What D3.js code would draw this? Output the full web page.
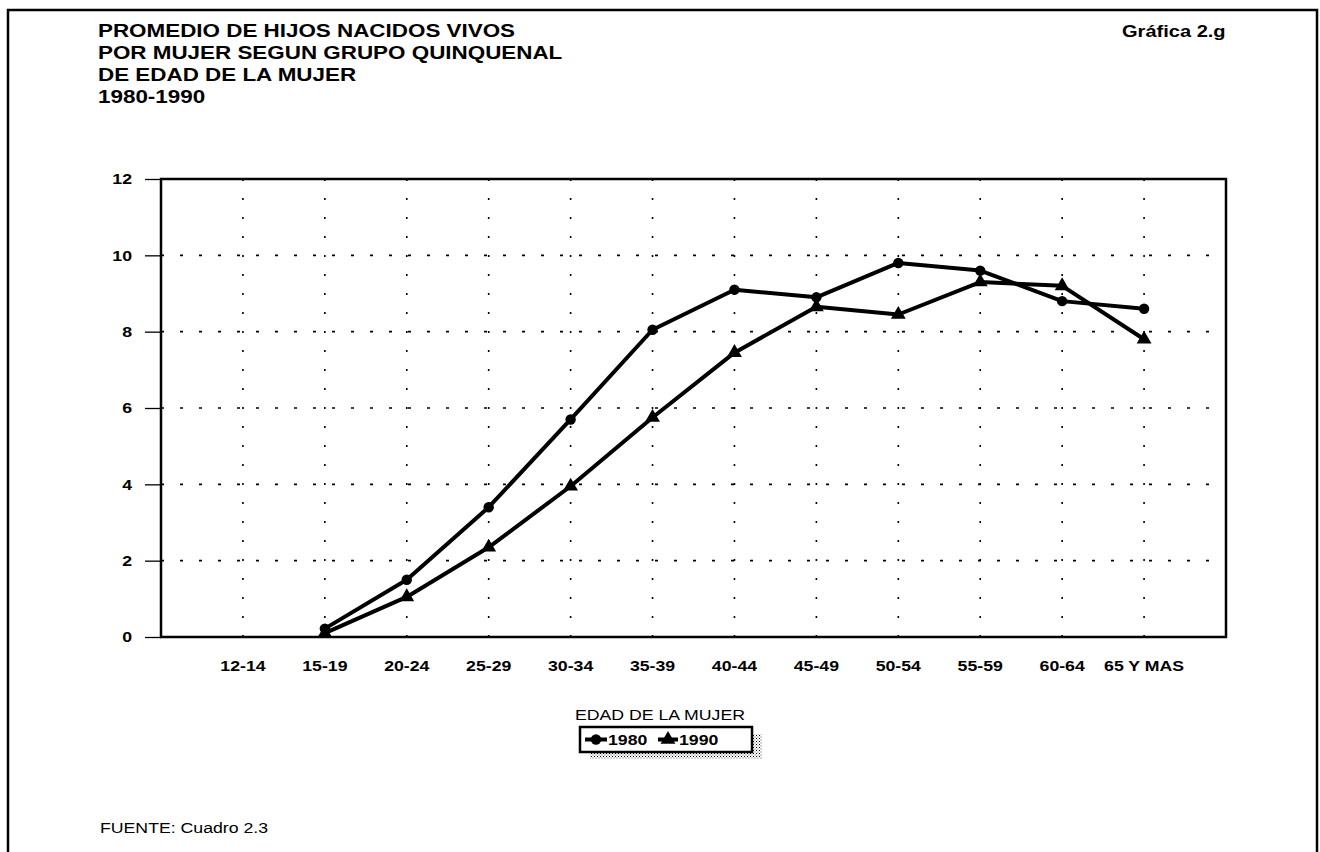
<!DOCTYPE html>
<html>
<head>
<meta charset="utf-8">
<script src="https://cdn.jsdelivr.net/npm/d3@7"></script>
<style>
  html, body { margin: 0; padding: 0; background: #fff; }
  svg { display: block; }
  text { font-family: "Liberation Sans", Arial, Helvetica, sans-serif; fill: #000; }
</style>
</head>
<body>
<svg id="chart" width="1320" height="852"></svg>
<script>
// ---- data ----
const categories = ["12-14","15-19","20-24","25-29","30-34","35-39","40-44","45-49","50-54","55-59","60-64","65 Y MAS"];
const values1980 = [null, 0.22, 1.5, 3.4, 5.7, 8.05, 9.1, 8.9, 9.8, 9.6, 8.8, 8.6];
const values1990 = [null, 0.1, 1.05, 2.35, 3.95, 5.75, 7.45, 8.65, 8.45, 9.3, 9.2, 7.8];
const yTicks = [0, 2, 4, 6, 8, 10, 12];
const gridY = [2, 4, 6, 8, 10];
const seriesNames = ["1980", "1990"];
const titleLines = ["PROMEDIO DE HIJOS NACIDOS VIVOS", "POR MUJER SEGUN GRUPO QUINQUENAL", "DE EDAD DE LA MUJER", "1980-1990"];
const chartCode = "Gráfica 2.g";
const xAxisTitle = "EDAD DE LA MUJER";
const sourceNote = "FUENTE: Cuadro 2.3";

// ---- layout ----
const SX = 1.18; // horizontal stretch of the scanned lettering
const plot = { left: 161, right: 1226, top: 179, bottom: 637 };

const svg = d3.select("#chart");

// stipple pattern for legend shadow
const defs = svg.append("defs");
const pat = defs.append("pattern").attr("id", "stipple").attr("patternUnits", "userSpaceOnUse")
  .attr("width", 3).attr("height", 3);
pat.append("rect").attr("x", 0).attr("y", 0).attr("width", 1).attr("height", 1).attr("fill", "#000");
pat.append("rect").attr("x", 1.5).attr("y", 1.5).attr("width", 1).attr("height", 1).attr("fill", "#555");

// outer frame
svg.append("rect").attr("x", 8).attr("y", 10).attr("width", 1309).attr("height", 860)
  .attr("fill", "none").attr("stroke", "#000").attr("stroke-width", 2.5);

function stretchedText(g, x, y, str, opts) {
  const t = g.append("text")
    .attr("transform", `translate(${x},${y}) scale(${SX},1)`)
    .attr("text-anchor", opts.anchor || "start")
    .attr("font-size", opts.size)
    .attr("font-weight", opts.weight || "normal")
    .text(str);
  if (opts.dy) t.attr("dy", opts.dy);
  return t;
}

// titles
titleLines.forEach((s, i) => {
  stretchedText(svg, 98, 36.5 + i * 22, s, { size: 19, weight: "bold" });
});
stretchedText(svg, 1122, 36.5, chartCode, { size: 17, weight: "bold" });

// scales
const x = d3.scalePoint().domain(categories).range([plot.left, plot.right]).padding(1);
const y = d3.scaleLinear().domain([0, 12]).range([plot.bottom, plot.top]);

// grid
const grid = svg.append("g");
grid.selectAll("line.gy").data(gridY).join("line")
  .attr("x1", plot.left).attr("x2", plot.right)
  .attr("y1", d => y(d)).attr("y2", d => y(d))
  .attr("stroke", "#000").attr("stroke-width", 1.6).attr("stroke-dasharray", "3,16");
grid.selectAll("line.gx").data(categories).join("line")
  .attr("x1", d => x(d)).attr("x2", d => x(d))
  .attr("y1", plot.bottom).attr("y2", plot.top)
  .attr("stroke", "#000").attr("stroke-width", 1.6).attr("stroke-dasharray", "2,17");

// plot border
svg.append("rect").attr("x", plot.left).attr("y", plot.top)
  .attr("width", plot.right - plot.left).attr("height", plot.bottom - plot.top)
  .attr("fill", "none").attr("stroke", "#000").attr("stroke-width", 2.5);

// y axis (ticks via d3 axis, labels stretched)
const yAxis = svg.append("g").attr("transform", `translate(${plot.left},0)`)
  .call(d3.axisLeft(y).tickValues(yTicks).tickSize(16).tickFormat(""));
yAxis.select(".domain").remove();
yAxis.selectAll(".tick line").attr("stroke", "#000").attr("stroke-width", 1.3);
yTicks.forEach(v => {
  stretchedText(svg, 132, y(v), String(v), { size: 15, weight: "bold", anchor: "end", dy: "0.36em" });
});

// x axis labels
const xAxis = svg.append("g").attr("transform", `translate(0,${plot.bottom})`)
  .call(d3.axisBottom(x).tickSize(0).tickFormat(""));
xAxis.select(".domain").remove();
categories.forEach(c => {
  stretchedText(svg, x(c), 671, c, { size: 15, weight: "bold", anchor: "middle" });
});

// series
const line = d3.line()
  .defined(d => d.v != null)
  .x(d => x(d.c)).y(d => y(d.v));
const toPts = arr => categories.map((c, i) => ({ c, v: arr[i] }));
const s1980 = toPts(values1980), s1990 = toPts(values1990);

svg.append("path").datum(s1980).attr("d", line)
  .attr("fill", "none").attr("stroke", "#000").attr("stroke-width", 4).attr("stroke-linejoin", "round");
svg.append("path").datum(s1990).attr("d", line)
  .attr("fill", "none").attr("stroke", "#000").attr("stroke-width", 4).attr("stroke-linejoin", "round");

const circleSym = d3.symbol().type(d3.symbolCircle).size(85);
const triSym = d3.symbol().type(d3.symbolTriangle).size(95);
svg.selectAll("path.m80").data(s1980.filter(d => d.v != null)).join("path")
  .attr("class", "m80").attr("d", circleSym)
  .attr("transform", d => `translate(${x(d.c)},${y(d.v)})`).attr("fill", "#000");
svg.selectAll("path.m90").data(s1990.filter(d => d.v != null)).join("path")
  .attr("class", "m90").attr("d", triSym)
  .attr("transform", d => `translate(${x(d.c)},${y(d.v)})`).attr("fill", "#000");

// x axis title
stretchedText(svg, 660, 720, xAxisTitle, { size: 15, anchor: "middle" });

// legend
const lg = { x: 580, y: 727, w: 172, h: 25 };
svg.append("rect").attr("x", lg.x + 10).attr("y", lg.y + 7).attr("width", lg.w).attr("height", lg.h)
  .attr("fill", "url(#stipple)");
svg.append("rect").attr("x", lg.x).attr("y", lg.y).attr("width", lg.w).attr("height", lg.h)
  .attr("fill", "#fff").attr("stroke", "#000").attr("stroke-width", 2.5);
const legItems = [
  { name: seriesNames[0], sym: circleSym, x0: 585, x1: 607, tx: 608 },
  { name: seriesNames[1], sym: triSym, x0: 658, x1: 678, tx: 679 }
];
const ly = lg.y + lg.h / 2;
legItems.forEach(it => {
  svg.append("line").attr("x1", it.x0).attr("x2", it.x1).attr("y1", ly).attr("y2", ly)
    .attr("stroke", "#000").attr("stroke-width", 4);
  svg.append("path").attr("d", it.sym()).attr("transform", `translate(${(it.x0 + it.x1) / 2},${ly})`).attr("fill", "#000");
  stretchedText(svg, it.tx, ly, it.name, { size: 15, weight: "bold", dy: "0.36em" });
});

// source
stretchedText(svg, 100, 833, sourceNote, { size: 15 });
</script>
</body>
</html>
